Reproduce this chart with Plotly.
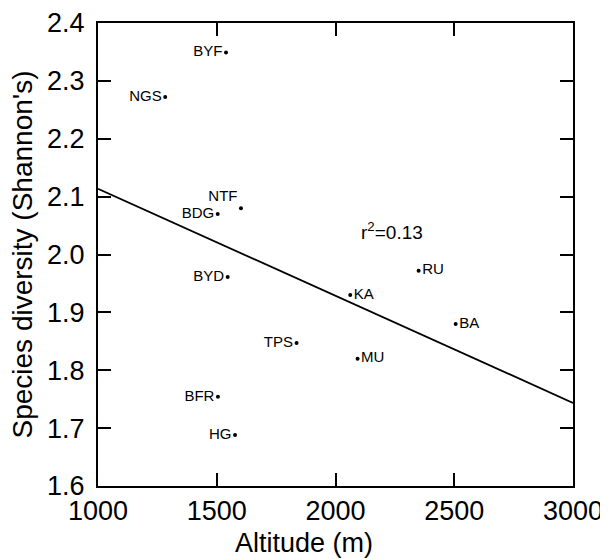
import numpy as np
import plotly.graph_objects as go

sites = ["BYF", "NGS", "NTF", "BDG", "BYD", "TPS", "MU", "BFR", "HG", "RU", "KA", "BA"]
altitude = [1539, 1283, 1602, 1504, 1546, 1836, 2093, 1505, 1577, 2350, 2062, 2506]
diversity = [2.349, 2.272, 2.080, 2.070, 1.961, 1.847, 1.820, 1.754, 1.688, 1.972, 1.930, 1.880]
label_pos = ["middle left", "middle left", "top left", "middle left", "middle left", "middle left",
             "middle right", "middle left", "middle left", "middle right", "middle right", "middle right"]
x_range = [1000, 3000]
y_range = [1.6, 2.4]
x_ticks = [1000, 1500, 2000, 2500, 3000]
y_ticks = [1.6, 1.7, 1.8, 1.9, 2.0, 2.1, 2.2, 2.3, 2.4]
y_tick_text = ["1.6", "1.7", "1.8", "1.9", "2.0", "2.1", "2.2", "2.3", "2.4"]

slope, intercept = np.polyfit(altitude, diversity, 1)
fit_x = np.array(x_range, dtype=float)
fit_y = slope * fit_x + intercept
r2 = np.corrcoef(altitude, diversity)[0, 1] ** 2

FONT = "Liberation Sans, Arial, sans-serif"

fig = go.Figure()
fig.add_trace(go.Scatter(x=fit_x, y=fit_y, mode="lines",
                         line=dict(color="black", width=1.8), showlegend=False, hoverinfo="skip"))
fig.add_trace(go.Scatter(x=altitude, y=diversity, mode="markers+text", text=sites,
                         textposition=label_pos,
                         textfont=dict(family=FONT, size=15, color="black"),
                         marker=dict(color="black", size=4), showlegend=False))

fig.add_annotation(x=2237, y=2.04, xref="x", yref="y", showarrow=False,
                   text=f"r<sup>2</sup>={r2:.2f}",
                   font=dict(family=FONT, size=19, color="black"))
fig.add_annotation(x=0.434, y=-0.124, xref="paper", yref="paper", showarrow=False,
                   text="Altitude (m)", xanchor="center", yanchor="middle",
                   font=dict(family=FONT, size=27, color="black"))
fig.add_annotation(x=-0.16, y=0.5, xref="paper", yref="paper", showarrow=False,
                   text="Species diversity (Shannon's)", textangle=-90,
                   xanchor="center", yanchor="middle",
                   font=dict(family=FONT, size=28, color="black"))

axis_common = dict(showgrid=False, zeroline=False, showline=True, linecolor="black",
                   linewidth=2, mirror="ticks", ticks="inside", ticklen=13, tickwidth=1.5,
                   tickcolor="black", tickfont=dict(family=FONT, size=27, color="black"),
                   automargin=False)
fig.update_xaxes(range=x_range, tickvals=x_ticks, **axis_common)
fig.update_yaxes(range=y_range, tickvals=y_ticks, ticktext=y_tick_text, ticklabelstandoff=6,
                 **axis_common)

fig.update_layout(width=600, height=551, margin=dict(l=90, r=35, t=15, b=73),
                  plot_bgcolor="white", paper_bgcolor="white",
                  font=dict(family=FONT, color="black"))

fig.write_html("out.html")
